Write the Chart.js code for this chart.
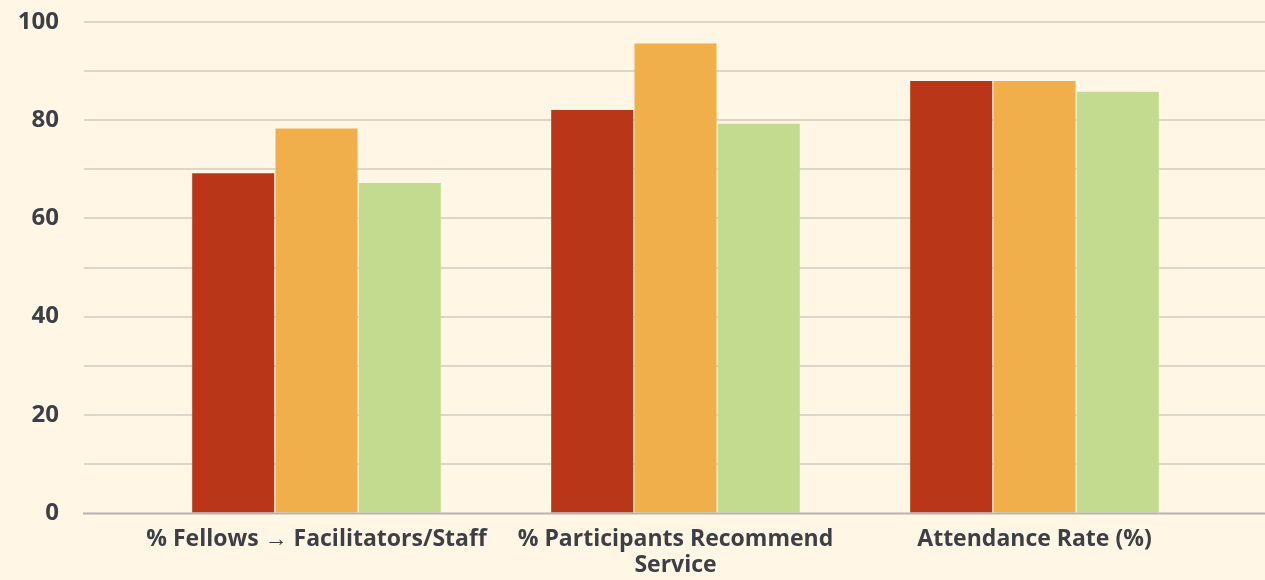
<!DOCTYPE html>
<html>
<head>
<meta charset="utf-8">
<script src="https://cdn.jsdelivr.net/npm/chart.js@4.4.0/dist/chart.umd.min.js"></script>
<style>
  html, body { margin: 0; padding: 0; background: #fff6e6; }
  #wrap { width: 1265px; height: 580px; }
</style>
</head>
<body>
<div id="wrap"><canvas id="c" width="1265" height="580"></canvas></div>
<script>
const categories = [
  '% Fellows \u2192 Facilitators/Staff',
  ['% Participants Recommend', 'Service'],
  'Attendance Rate (%)'
];
const seriesA = [69.2, 82.1, 88.0];
const seriesB = [78.3, 95.6, 88.0];
const seriesC = [67.2, 79.3, 85.8];
const yTickLabels = [0, 20, 40, 60, 80, 100];

const colors = ['#b93718', '#f0af4a', '#c3db8e'];
const fontFamily = "'Open Sans', 'Noto Sans', sans-serif";
const textColor = '#3c3f44';

const gridPlugin = {
  id: 'fullGrid',
  beforeDatasetsDraw(chart) {
    const ctx = chart.ctx;
    const y = chart.scales.y;
    ctx.save();
    ctx.strokeStyle = '#ddd6cb';
    ctx.lineWidth = 2;
    for (let v = 10; v <= 100; v += 10) {
      const py = Math.round(y.getPixelForValue(v));
      ctx.beginPath();
      ctx.moveTo(84, py);
      ctx.lineTo(chart.width, py);
      ctx.stroke();
    }
    ctx.restore();
  },
  afterDatasetsDraw(chart) {
    const ctx = chart.ctx;
    const y = chart.scales.y;
    const py = Math.round(y.getPixelForValue(0)) + 0.5;
    ctx.save();
    ctx.strokeStyle = '#b4b4b4';
    ctx.lineWidth = 2;
    ctx.beginPath();
    ctx.moveTo(83, py);
    ctx.lineTo(chart.width, py);
    ctx.stroke();
    ctx.restore();
  }
};

new Chart(document.getElementById('c'), {
  type: 'bar',
  data: {
    labels: categories,
    datasets: [
      { label: 'A', data: seriesA, backgroundColor: colors[0] },
      { label: 'B', data: seriesB, backgroundColor: colors[1] },
      { label: 'C', data: seriesC, backgroundColor: colors[2] }
    ]
  },
  options: {
    responsive: false,
    animation: false,
    layout: { padding: { top: 22, right: 51, left: 0, bottom: 0 } },
    datasets: { bar: { categoryPercentage: 0.696, barPercentage: 0.985 } },
    plugins: { legend: { display: false }, tooltip: { enabled: false } },
    scales: {
      x: {
        grid: { display: false, drawTicks: false },
        border: { display: false },
        ticks: {
          color: textColor,
          font: { family: fontFamily, size: 23, weight: '700', lineHeight: 1.13 },
          padding: 13,
          maxRotation: 0,
          autoSkip: false
        },
        afterFit(s) { s.height = 67; }
      },
      y: {
        min: 0, max: 100,
        grid: { display: true, drawOnChartArea: false, drawTicks: true, tickLength: 78, color: 'rgba(0,0,0,0)' },
        border: { display: false },
        ticks: {
          stepSize: 20,
          color: textColor,
          font: { family: fontFamily, size: 24, weight: '700' },
          padding: 0,
          callback: (v) => yTickLabels.includes(v) ? String(v) : ''
        },
        afterFit(s) { s.width = 137; }
      }
    }
  },
  plugins: [gridPlugin]
});
</script>
</body>
</html>
